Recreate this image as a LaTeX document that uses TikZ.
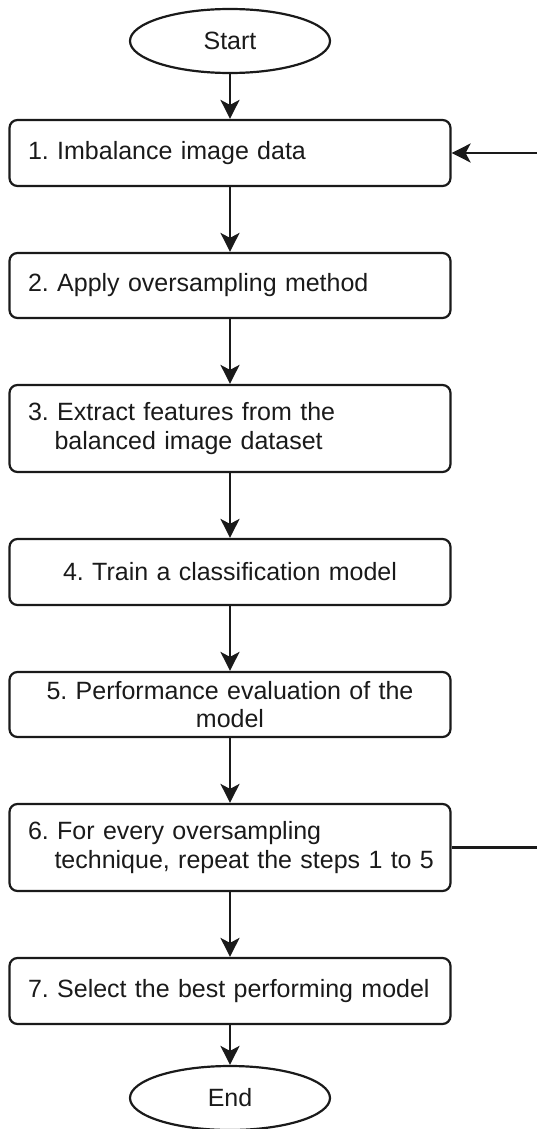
\documentclass[tikz,border=0pt]{standalone}
\usepackage{fontspec}
\setmainfont{Liberation Sans}
\usetikzlibrary{shapes.geometric,arrows.meta}
\definecolor{ink}{HTML}{1A1A1A}
\frenchspacing
\newcommand{\stepstart}{\hspace*{8pt}}
\newcommand{\stepgap}{\hspace*{34.5pt}}
\tikzset{
  stepbox/.style={draw=ink, line width=2.2pt, rounded corners=8pt, minimum width=441pt,
    text width=420pt, inner xsep=10.5pt, inner ysep=0pt, font=\fontsize{25}{28.5}\selectfont, text=ink},
  term/.style={draw=ink, line width=2.2pt, ellipse, minimum width=200pt, minimum height=64pt,
    inner sep=0pt, font=\fontsize{25}{28.5}\selectfont, text=ink},
  flow/.style={draw=ink, line width=2.2pt, -{Stealth[length=19pt, width=19pt, inset=5pt]}}
}
\begin{document}
\begin{tikzpicture}[x=1pt, y=-1pt]
\useasboundingbox (0,0) rectangle (536,1129);
\node[term] (start) at (230,41) {Start};
\node[stepbox, minimum height=66pt, align=left] (b1) at (230,153) {\stepstart 1. Imbalance image data};
\node[stepbox, minimum height=65pt, align=left] (b2) at (230,285.5) {\stepstart 2. Apply oversampling method};
\node[stepbox, minimum height=87pt, align=left] (b3) at (230,428.5) {\stepstart 3. Extract features from the\\\stepgap balanced image dataset};
\node[stepbox, minimum height=66pt, align=center] (b4) at (230,572) {4. Train a classification model};
\node[stepbox, minimum height=65pt, align=center] (b5) at (230,704.5) {5. Performance evaluation of the\\model};
\node[stepbox, minimum height=87pt, align=left] (b6) at (230,847.5) {\stepstart 6. For every oversampling\\\stepgap technique, repeat the steps 1 to 5};
\node[stepbox, minimum height=66pt, align=left] (b7) at (230,991) {\stepstart 7. Select the best performing model};
\node[term] (end) at (230,1098) {End};
\coordinate (r6) at (540,847.5);
\draw[flow] (start) -- (b1);
\draw[flow] (b1) -- (b2);
\draw[flow] (b2) -- (b3);
\draw[flow] (b3) -- (b4);
\draw[flow] (b4) -- (b5);
\draw[flow] (b5) -- (b6);
\draw[flow] (b6) -- (b7);
\draw[flow] (b7) -- (end);
\draw[flow] (b6.east) -- (r6) |- (b1.east);
\end{tikzpicture}
\end{document}
